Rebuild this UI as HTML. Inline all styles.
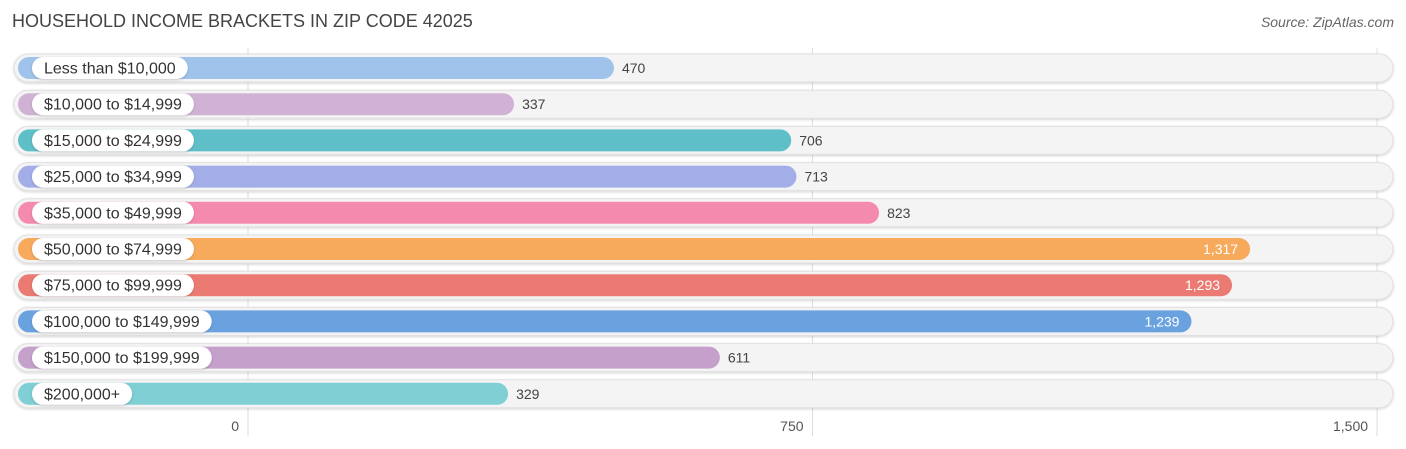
<!DOCTYPE html>
<html><head><meta charset="utf-8">
<style>
body{margin:0;background:#fff;font-family:"Liberation Sans",sans-serif;}
#c{position:relative;width:1406px;height:449px;overflow:hidden;}
</style></head>
<body>
<div id="c">
<svg id="s" width="1406" height="449">
<defs><filter id="sh" x="-5%" y="-30%" width="110%" height="160%"><feDropShadow dx="0" dy="1" stdDeviation="1.2" flood-color="#000" flood-opacity="0.18"/></filter></defs>
<text x="12" y="27" font-size="18" fill="#444">HOUSEHOLD INCOME BRACKETS IN ZIP CODE 42025</text>
<text x="1394" y="27" font-size="14" fill="#666" font-style="italic" text-anchor="end">Source: ZipAtlas.com</text>
<g id="grid"></g><g id="rows"></g><g id="ticks"></g>
</svg>
</div>
<script>
const categories=["Less than $10,000","$10,000 to $14,999","$15,000 to $24,999","$25,000 to $34,999","$35,000 to $49,999","$50,000 to $74,999","$75,000 to $99,999","$100,000 to $149,999","$150,000 to $199,999","$200,000+"];
const values=[470,337,706,713,823,1317,1293,1239,611,329];
const valueLabels=["470","337","706","713","823","1,317","1,293","1,239","611","329"];
const colors=["#9fc3ea","#d0b3d4","#5fbfc8","#a3aee8","#f48bae","#f8aa5c","#ea7a72","#6aa2e0","#c4a0cb","#7fcfd4"];
const tickValues=[0,750,1500];
const tickLabels=["0","750","1,500"];
const NS="http://www.w3.org/2000/svg";
const x=v=>261+0.751*v;
const gx=v=>248+0.7527*v;
const y=i=>68+i*36.2;
function mk(tag,at,parent){const e=document.createElementNS(NS,tag);for(const k in at)e.setAttribute(k,at[k]);parent.appendChild(e);return e;}
const grid=document.getElementById('grid'),rows=document.getElementById('rows'),ticks=document.getElementById('ticks');
tickValues.forEach((t,i)=>{
 const l=mk('line',{x1:gx(t),x2:gx(t),y1:48,y2:436,stroke:'#ddd','stroke-width':1},grid);
 
 
 const tx=mk('text',{x:gx(t)-9,y:431,'font-size':14,fill:'#555','text-anchor':'end'},ticks);
 tx.textContent=tickLabels[i];
 
 
});
categories.forEach((c,i)=>{
 const cy=y(i);
 const g=mk('g',{},rows);
 
 
 const bg=mk('rect',{x:14,y:cy-14,width:1379,height:28,rx:14,fill:'#f4f4f4',stroke:'#e0e0e0','stroke-width':1,filter:'url(#sh)'},g);
 
 
 const b=mk('rect',{x:18,y:cy-11,width:x(values[i])-18,height:22,rx:11,fill:colors[i]},g);
 
 
 const lt=mk('text',{x:44,y:cy+5.5,'font-size':16,fill:'#333'},g);
 lt.textContent=c;
 const w=lt.getComputedTextLength();
 const lp=mk('rect',{x:32,y:cy-11,width:w+24,height:22,rx:11,fill:'#fff',filter:'url(#sh)'},g);
 g.insertBefore(lp,lt);
 
 
 
 
 const inside=values[i]>1000;
 const vt=mk('text',{x:inside?x(values[i])-12:x(values[i])+8,y:cy+5,'font-size':14,fill:inside?'#fff':'#444','text-anchor':inside?'end':'start'},g);
 vt.textContent=valueLabels[i];
 
 
});
</script>
</body></html>
